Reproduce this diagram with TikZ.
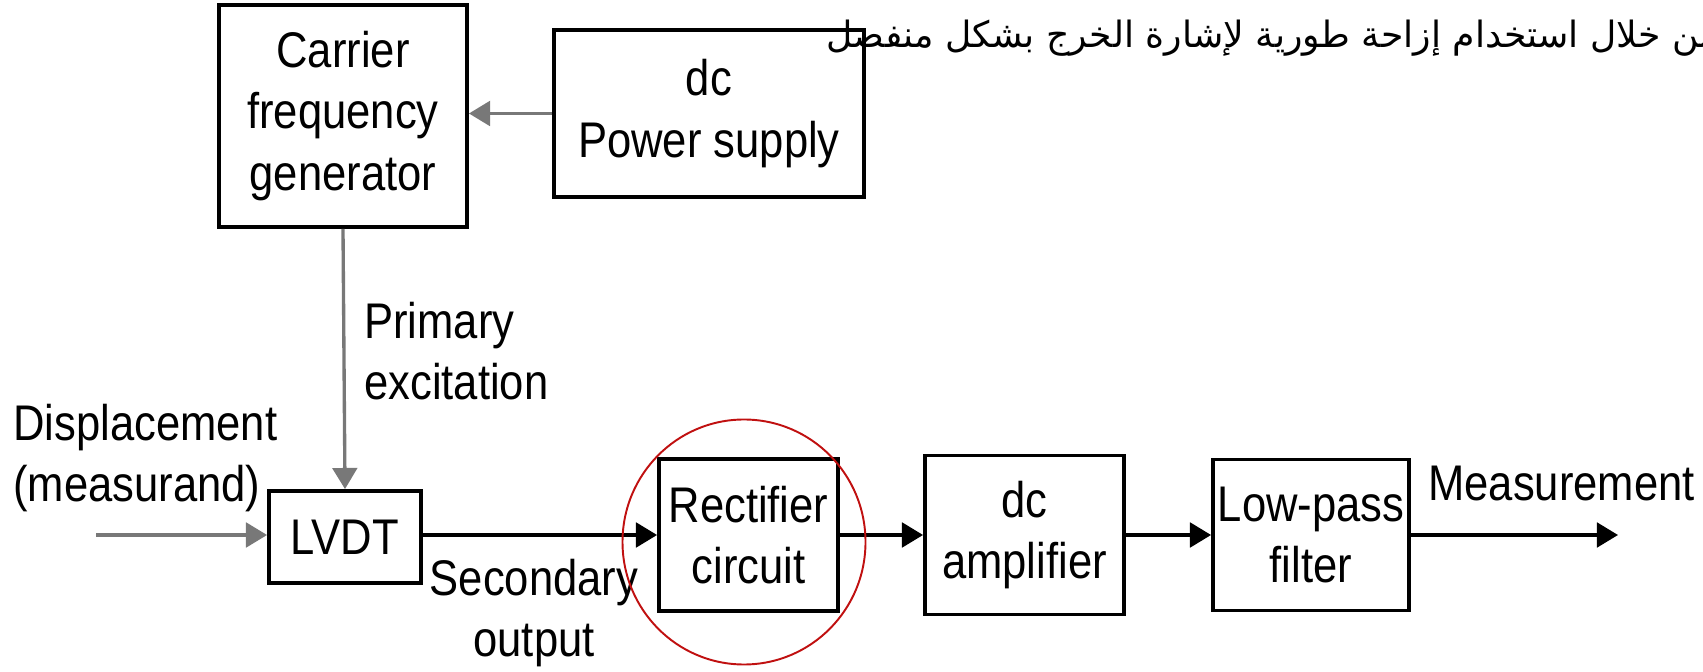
\documentclass[tikz,border=0pt]{standalone}
\usepackage{fontspec}
\setmainfont{Liberation Sans}[FakeStretch=0.87]
\newfontfamily\arabicfont[Script=Arabic]{DejaVu Sans}
\TeXXeTstate=1
\usepackage{xcolor}
\definecolor{ringred}{RGB}{192, 16, 16}
\definecolor{wiregray}{RGB}{120, 120, 120}
\usepackage{tikz}
\usetikzlibrary{arrows.meta,positioning}

\tikzset{
    blockbox/.style={draw, line width=2.2pt, align=center, inner sep=0pt, font=\fontsize{28.5}{35}\selectfont},
    tag/.style={inner sep=0pt, font=\fontsize{28.5}{35}\selectfont},
    wire/.style={line width=1.9pt, -{Triangle[length=12pt, width=14pt]}}
}

\begin{document}
\begin{tikzpicture}
    \useasboundingbox (0,0) rectangle (34.06,13.42);

    % Blocks
    \node[blockbox, minimum width=4.96cm, minimum height=4.44cm] (carrier) at (6.86,11.10) {Carrier\\frequency\\generator};
    \node[blockbox, minimum width=6.20cm, minimum height=3.34cm] (power) at (14.18,11.15) {dc\\Power supply};
    \node[blockbox, minimum width=3.04cm, minimum height=1.84cm] (lvdt) at (6.90,2.68) {LVDT};
    \node[blockbox, minimum width=3.58cm, minimum height=3.04cm] (rect) at (14.97,2.72) {Rectifier\\circuit};
    \node[blockbox, minimum width=3.98cm, minimum height=3.18cm] (amp) at (20.49,2.72) {dc\\amplifier};
    \node[blockbox, minimum width=3.92cm, minimum height=3.02cm] (filter) at (26.22,2.72) {Low-pass\\filter};

    % Free ends
    \coordinate (din) at (1.92,2.72);
    \coordinate (dout) at (32.36,2.72);

    % Connectors
    \draw[wire, wiregray] (power.west) -- (power.west -| carrier.east);
    \draw[wire, wiregray] (carrier.south) -- (lvdt.north);
    \draw[wire, wiregray] (din) -- (din -| lvdt.west);
    \draw[wire] (lvdt.east |- rect.west) -- (rect.west);
    \draw[wire] (rect.east) -- (amp.west);
    \draw[wire] (amp.east) -- (filter.west);
    \draw[wire] (filter.east) -- (dout);

    % Labels
    \node[tag, anchor=west, align=left] (primlbl) at (7.28,6.40) {Primary\\excitation};
    \node[tag, anchor=west, align=left] (displbl) at (0.26,4.26) {Displacement\\(measurand)};
    \node[tag, align=center] (seclbl) at (10.68,1.16) {Secondary\\output};
    \node[tag, anchor=west] (measlbl) at (28.56,3.74) {Measurement};

    % Highlight ring
    \draw[ringred, line width=1.1pt] (rect.center) ++(-0.09,-0.14) ellipse [x radius=2.43cm, y radius=2.45cm];

    % Arabic caption (runs off the right edge)
    \begin{scope}
        \clip (0,0) rectangle (34.06,13.42);
        \node[inner sep=0pt, anchor=base west, font=\arabicfont\fontsize{20.6}{24}\selectfont] (note) at (16.52,12.46) {\beginR من خلال استخدام إزاحة طورية لإشارة الخرج بشكل منفصل\endR};
    \end{scope}
\end{tikzpicture}
\end{document}
